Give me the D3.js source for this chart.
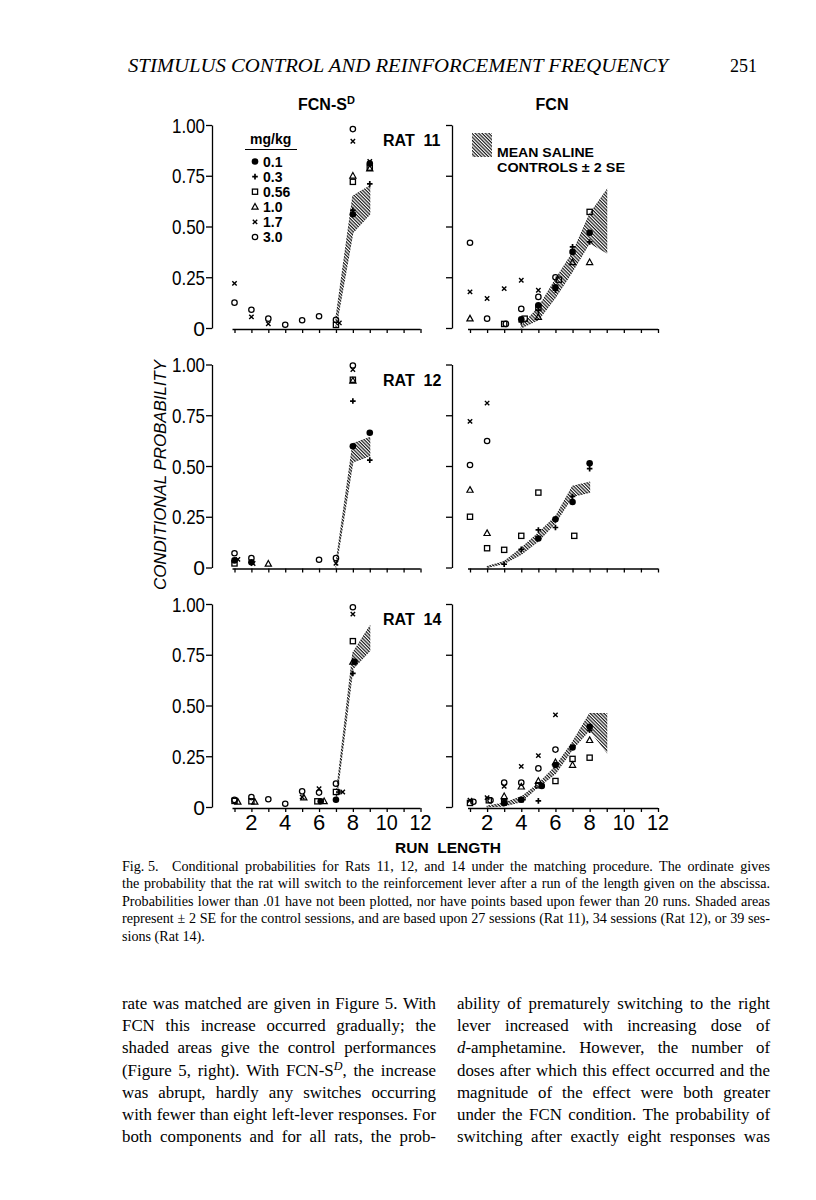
<!DOCTYPE html>
<html><head><meta charset="utf-8">
<script src="https://cdn.jsdelivr.net/npm/d3@7"></script>
<style>body{margin:0;background:#fff} svg{display:block}</style>
</head><body>
<svg id="c" width="816" height="1200"></svg>
<script>
// ---------- data ----------
const doses = ["0.1","0.3","0.56","1.0","1.7","3.0"];
const runLengths = d3.range(1, 13);
const runLabels = [2, 4, 6, 8, 10, 12];
const probTicks = [0, 0.25, 0.5, 0.75, 1];
const probLabels = ["0", "0.25", "0.50", "0.75", "1.00"];
const rats = ["RAT 11", "RAT 12", "RAT 14"];
const conditions = ["FCN-S", "FCN"];

// points: [run length, dose, conditional probability]
const rat11SD = [[1,"1.7",0.22],[1,"3.0",0.125],[2,"3.0",0.09],[2,"1.7",0.055],[3,"3.0",0.046],[3,"1.7",0.021],
  [4,"3.0",0.016],[5,"3.0",0.038],[6,"3.0",0.058],[7,"3.0",0.04],[7,"0.56",0.015],[7.2,"1.7",0.025],
  [8,"3.0",0.98],[8,"1.7",0.92],[8,"1.0",0.75],[8,"0.56",0.72],[8,"0.3",0.58],[8,"0.1",0.56],
  [9,"1.7",0.82],[9,"0.1",0.81],[9,"0.56",0.79],[9,"1.0",0.785],[9,"0.3",0.71]];
const rat11FCN = [[1,"3.0",0.42],[1,"1.7",0.178],[1,"1.0",0.046],[2,"1.7",0.145],[2,"3.0",0.046],
  [3,"1.7",0.194],[3,"0.56",0.02],[3.1,"3.0",0.02],
  [4,"1.7",0.235],[4,"3.0",0.094],[4,"0.1",0.043],[4.2,"0.56",0.046],[4,"0.3",0.03],
  [5,"1.7",0.186],[5,"3.0",0.153],[5,"0.1",0.112],[5,"0.56",0.1],[5,"0.3",0.087],[5,"1.0",0.054],
  [6,"3.0",0.25],[6.2,"0.56",0.238],[6,"0.1",0.2],[6,"0.3",0.186],
  [7,"0.3",0.4],[7,"0.1",0.375],[7,"1.0",0.324],
  [8,"0.56",0.572],[8,"0.1",0.469],[8,"0.3",0.424],[8,"1.0",0.324]];
const rat12SD = [[1,"3.0",0.07],[1.2,"1.7",0.04],[1,"0.1",0.035],[1,"0.56",0.02],
  [2,"3.0",0.046],[2,"0.1",0.026],[2.1,"1.7",0.02],[3,"1.0",0.018],[6,"3.0",0.038],
  [7,"3.0",0.046],[7,"1.7",0.021],
  [8,"3.0",0.995],[8,"1.7",0.975],[8,"0.56",0.925],[8,"1.0",0.92],[8,"0.3",0.82],[8,"0.1",0.597],
  [9,"0.1",0.664],[9,"0.3",0.529]];
const rat12FCN = [[1,"1.7",0.72],[1,"3.0",0.505],[1,"1.0",0.382],[1,"0.56",0.25],
  [2,"1.7",0.81],[2,"3.0",0.623],[2,"1.0",0.169],[2,"0.56",0.095],
  [3,"0.56",0.087],[3,"0.3",0.016],[4,"0.56",0.156],[4,"0.3",0.09],
  [5,"0.56",0.369],[5,"0.3",0.185],[5,"0.1",0.143],[6,"0.1",0.238],[6,"0.3",0.197],
  [7,"0.1",0.323],[7,"0.3",0.35],[7.1,"0.56",0.156],[8,"0.1",0.513],[8,"0.3",0.487]];
const rat14SD = [[1,"0.56",0.03],[1,"3.0",0.035],[1.2,"1.0",0.025],
  [2,"3.0",0.049],[2,"0.56",0.028],[2.2,"1.0",0.025],[3,"3.0",0.038],[4,"3.0",0.016],
  [5,"3.0",0.077],[5,"1.7",0.049],[5.1,"1.0",0.046],
  [6,"1.7",0.09],[6,"3.0",0.071],[5.9,"0.56",0.028],[6.1,"0.1",0.028],[6.3,"1.0",0.028],
  [7,"3.0",0.115],[7,"0.56",0.074],[7.4,"1.7",0.074],[7.2,"0.3",0.074],[7,"0.1",0.036],
  [8,"3.0",0.984],[8,"1.7",0.95],[8,"0.56",0.817],[8,"1.0",0.715],[8.1,"0.1",0.715],[8,"0.3",0.658]];
const rat14FCN = [[1,"0.56",0.02],[1.2,"3.0",0.026],[1,"1.7",0.033],
  [2,"1.7",0.046],[2.1,"0.56",0.033],[2.2,"3.0",0.033],
  [3,"3.0",0.12],[3,"1.7",0.102],[3,"1.0",0.053],[3,"0.1",0.02],[3,"0.56",0.025],
  [4,"1.7",0.2],[4,"3.0",0.12],[4,"1.0",0.10],[4,"0.1",0.036],[4.1,"0.3",0.036],
  [5,"1.7",0.253],[5,"3.0",0.19],[5,"1.0",0.128],[5,"0.56",0.107],[5.2,"0.1",0.104],[5,"0.3",0.03],
  [6,"1.7",0.454],[6,"3.0",0.283],[6,"1.0",0.22],[6,"0.1",0.207],[6,"0.56",0.128],
  [7,"0.1",0.293],[7,"0.56",0.237],[7,"1.0",0.207],
  [8,"0.1",0.395],[8,"0.3",0.378],[8,"1.0",0.329],[8,"0.56",0.243]];

// saline control band: [run length, mean - 2SE, mean + 2SE]
const rat11SDband = [[7,0,0.05],[8,0.47,0.65],[9,0.56,0.70]];
const rat11FCNband = [[4,0,0.01],[5,0.04,0.10],[6,0.15,0.24],[7,0.28,0.37],[8,0.42,0.56],[9,0.37,0.68]];
const rat12SDband = [[7,0,0.02],[8,0.52,0.61],[9,0.55,0.64]];
const rat12FCNband = [[2,0,0.005],[3,0.02,0.03],[4,0.065,0.095],[5,0.13,0.17],[6,0.22,0.25],[7,0.35,0.40],[8,0.37,0.42]];
const rat14SDband = [[7,0.02,0.05],[8,0.68,0.76],[9,0.77,0.89]];
const rat14FCNband = [[2,0,0.005],[3,0.005,0.02],[4,0.026,0.05],[5,0.10,0.115],[6,0.165,0.20],[7,0.285,0.32],[8,0.38,0.46],[9,0.27,0.46]];

const headerText = "STIMULUS CONTROL AND REINFORCEMENT FREQUENCY";
const pageNumber = "251";
const captionLines = [
  "Fig.\u00a05.\u00a0\u00a0 Conditional probabilities for Rats 11, 12, and 14 under the matching procedure. The ordinate gives",
  "the probability that the rat will switch to the reinforcement lever after a run of the length given on the abscissa.",
  "Probabilities lower than .01 have not been plotted, nor have points based upon fewer than 20 runs. Shaded areas",
  "represent \u00b1 2 SE for the control sessions, and are based upon 27 sessions (Rat 11), 34 sessions (Rat 12), or 39 ses-",
  "sions (Rat 14)."
];
const bodyLeft = [
  "rate was matched are given in Figure 5. With",
  "FCN this increase occurred gradually; the",
  "shaded areas give the control performances",
  "(Figure 5, right). With FCN-S^D^, the increase",
  "was abrupt, hardly any switches occurring",
  "with fewer than eight left-lever responses. For",
  "both components and for all rats, the prob-"
];
const bodyRight = [
  "ability of prematurely switching to the right",
  "lever increased with increasing dose of",
  "_d_-amphetamine. However, the number of",
  "doses after which this effect occurred and the",
  "magnitude of the effect were both greater",
  "under the FCN condition. The probability of",
  "switching after exactly eight responses was"
];

// ---------- layout ----------
const svg = d3.select("#c");
const SANS = "'Liberation Sans', Arial, Helvetica, sans-serif";
const SERIF = "'Liberation Serif', 'Times New Roman', serif";
const tops = [125, 364.5, 604];
const H = 203;
const xL = d3.scaleLinear([1, 12], [234.5, 420.5]);
const xR = d3.scaleLinear([1, 12], [470, 658]);
const axisLX = 212, axisRX = 452;

const defs = svg.append("defs");
const pat = defs.append("pattern").attr("id", "hatch").attr("patternUnits", "userSpaceOnUse")
  .attr("width", 2.4).attr("height", 2.4).attr("patternTransform", "rotate(45)");
pat.append("rect").attr("width", 2.4).attr("height", 1.2).attr("fill", "#1a1a1a");

function drawMarker(g, dose, cx, cy) {
  const t = `translate(${cx},${cy})`;
  if (dose === "0.1") g.append("circle").attr("cx", cx).attr("cy", cy).attr("r", 3.3).attr("fill", "#000");
  else if (dose === "0.3") g.append("path").attr("transform", t).attr("d", "M-2.8,0H2.8M0,-2.8V2.8").attr("stroke", "#000").attr("stroke-width", 1.7);
  else if (dose === "0.56") g.append("rect").attr("x", cx - 2.6).attr("y", cy - 2.6).attr("width", 5.2).attr("height", 5.2).attr("fill", "none").attr("stroke", "#000").attr("stroke-width", 1.3);
  else if (dose === "1.0") g.append("path").attr("transform", t).attr("d", "M0,-3.3L3.1,2.3H-3.1Z").attr("fill", "none").attr("stroke", "#000").attr("stroke-width", 1.2);
  else if (dose === "1.7") g.append("path").attr("transform", t).attr("d", "M-2.2,-2.2L2.2,2.2M-2.2,2.2L2.2,-2.2").attr("stroke", "#000").attr("stroke-width", 1.4);
  else if (dose === "3.0") g.append("circle").attr("cx", cx).attr("cy", cy).attr("r", 2.7).attr("fill", "none").attr("stroke", "#000").attr("stroke-width", 1.25);
}

function styleAxis(g) {
  g.selectAll(".domain").attr("stroke", "#000").attr("stroke-width", 1.3);
  g.selectAll(".tick line").attr("stroke", "#000").attr("stroke-width", 1.3);
  g.selectAll(".tick text").remove();
}

const panels = [
  [rat11SD, rat11SDband, rat11FCN, rat11FCNband],
  [rat12SD, rat12SDband, rat12FCN, rat12FCNband],
  [rat14SD, rat14SDband, rat14FCN, rat14FCNband]
];

panels.forEach((p, row) => {
  const top = tops[row];
  const y = d3.scaleLinear([0, 1], [top + H, top]);
  const g = svg.append("g");

  const ga = g.append("g").attr("transform", `translate(${axisLX},0)`)
    .call(d3.axisLeft(y).tickValues(probTicks).tickSize(6).tickSizeOuter(0));
  styleAxis(ga);
  probTicks.forEach((v, i) => {
    const lab = probLabels[i];
    const t = g.append("text").attr("x", 205).attr("y", y(v)).attr("dy", "0.36em")
      .attr("text-anchor", "end").style("font-family", SANS).style("font-size", "21px")
      .text(lab);
    if (lab.length > 1) t.attr("textLength", 33).attr("lengthAdjust", "spacingAndGlyphs");
  });
  const gm = g.append("g").attr("transform", `translate(${axisRX},0)`)
    .call(d3.axisLeft(y).tickValues(probTicks).tickSize(6).tickSizeOuter(0));
  styleAxis(gm);

  [[xL, p[0], p[1]], [xR, p[2], p[3]]].forEach(([xs, pts, band]) => {
    const gx = g.append("g").attr("transform", `translate(0,${y(0) + 1})`)
      .call(d3.axisBottom(xs).tickValues(runLengths).tickSize(4).tickSizeOuter(0));
    styleAxis(gx);
    gx.select(".domain").attr("d", `M${xs(1) - 2},0.5H${xs(12)}`);
    const area = d3.area().x(d => xs(d[0])).y0(d => y(d[1])).y1(d => y(d[2]));
    g.append("path").datum(band).attr("d", area).attr("fill", "url(#hatch)")
      .attr("stroke", "url(#hatch)").attr("stroke-width", 1.1);
    const gp = g.append("g");
    pts.forEach(d => drawMarker(gp, d[1], xs(d[0]), y(d[2])));
    if (row === 2) {
      runLabels.forEach(v => {
        const t = g.append("text").attr("x", xs(v)).attr("y", 830).attr("text-anchor", "middle")
          .style("font-family", SANS).style("font-size", "22px").text(v);
        if (String(v).length > 1) t.attr("textLength", 22).attr("lengthAdjust", "spacingAndGlyphs");
      });
    }
  });

  g.append("text").attr("x", 383).attr("y", top + 21).style("font-family", SANS)
    .style("font-size", "16px").style("font-weight", "bold")
    .text(rats[row].replace(" ", "\u00a0\u00a0"));
});

// titles
const t1 = svg.append("text").attr("x", 298).attr("y", 110).style("font-family", SANS)
  .style("font-size", "16px").style("font-weight", "bold");
t1.append("tspan").text(conditions[0]);
t1.append("tspan").attr("dy", -6).style("font-size", "11px").text("D");
svg.append("text").attr("x", 552).attr("y", 110).attr("text-anchor", "middle").style("font-family", SANS)
  .style("font-size", "16px").style("font-weight", "bold").text(conditions[1]);

// dose legend
svg.append("text").attr("x", 250).attr("y", 144).style("font-family", SANS).style("font-size", "14px")
  .style("font-weight", "bold").text("mg/kg");
svg.append("line").attr("x1", 245).attr("x2", 297).attr("y1", 149.5).attr("y2", 149.5)
  .attr("stroke", "#000").attr("stroke-width", 1.2);
const lg = svg.append("g");
doses.forEach((d, i) => {
  const cy = 161.5 + i * 15.1;
  drawMarker(lg, d, 255, cy);
  lg.append("text").attr("x", 263).attr("y", cy).attr("dy", "0.36em").style("font-family", SANS)
    .style("font-size", "14px").style("font-weight", "bold").text(d);
});

// band legend
svg.append("rect").attr("x", 472).attr("y", 133).attr("width", 20).attr("height", 24).attr("fill", "url(#hatch)");
svg.append("text").attr("x", 497).attr("y", 156.5).style("font-family", SANS).style("font-size", "13px")
  .style("font-weight", "bold").attr("textLength", 97).attr("lengthAdjust", "spacingAndGlyphs").text("MEAN SALINE");
svg.append("text").attr("x", 497).attr("y", 171.5).style("font-family", SANS).style("font-size", "13px")
  .style("font-weight", "bold").attr("textLength", 128).attr("lengthAdjust", "spacingAndGlyphs").text("CONTROLS \u00b1 2 SE");

// axis titles
svg.append("text").attr("transform", "translate(166,475) rotate(-90)").attr("text-anchor", "middle")
  .style("font-family", SANS).style("font-size", "17px").style("font-style", "italic")
  .attr("textLength", 230).attr("lengthAdjust", "spacingAndGlyphs").text("CONDITIONAL PROBABILITY");
svg.append("text").attr("x", 448).attr("y", 853).attr("text-anchor", "middle")
  .style("font-family", SANS).style("font-size", "15.5px").style("font-weight", "bold")
  .text("RUN\u00a0\u00a0LENGTH");

// header
svg.append("text").attr("x", 128).attr("y", 72).style("font-family", SERIF).style("font-style", "italic")
  .style("font-size", "18px").attr("textLength", 540).attr("lengthAdjust", "spacingAndGlyphs").text(headerText);
svg.append("text").attr("x", 757).attr("y", 72).attr("text-anchor", "end").style("font-family", SERIF)
  .style("font-size", "18px").text(pageNumber);

// ---------- justified text ----------
function addWord(g, word, y, size) {
  const t = g.append("text").attr("y", y).style("font-family", SERIF).style("font-size", size + "px");
  const parts = word.split(/(\^[^^]+\^|_[^_]+_)/).filter(s => s.length);
  let shifted = false;
  parts.forEach(s => {
    if (s[0] === "^" && s.length > 2) {
      t.append("tspan").attr("dy", -size * 0.35).style("font-size", (size * 0.72) + "px")
        .style("font-style", "italic").text(s.slice(1, -1));
      shifted = true;
    } else if (s[0] === "_" && s.length > 2) {
      t.append("tspan").style("font-style", "italic").text(s.slice(1, -1));
    } else {
      const ts = t.append("tspan").text(s);
      if (shifted) { ts.attr("dy", size * 0.35); shifted = false; }
    }
  });
  return t;
}
function naturalWidth(g, line, size) {
  const words = line.split(" ");
  const nodes = words.map(w => addWord(g, w, -100, size));
  const w = d3.sum(nodes, n => n.node().getComputedTextLength()) + (words.length - 1) * size * 0.25;
  nodes.forEach(n => n.remove());
  return w;
}
function fitSize(g, lines, width, maxSize) {
  let s = maxSize;
  lines.forEach(l => { const w = naturalWidth(g, l, 20); s = Math.min(s, 20 * width / w * 0.995); });
  return s;
}
function textLine(g, line, x0, x1, y, size, justify) {
  const words = line.split(" ");
  const nodes = words.map(w => addWord(g, w, y, size));
  const widths = nodes.map(n => n.node().getComputedTextLength());
  const total = d3.sum(widths);
  const gap = justify && words.length > 1 ? (x1 - x0 - total) / (words.length - 1) : size * 0.25;
  let x = x0;
  nodes.forEach((n, i) => { n.attr("x", x); x += widths[i] + gap; });
}

const tg = svg.append("g").attr("fill", "#000");
const capJust = captionLines.slice(0, -1);
const capSize = fitSize(tg, capJust, 648, 14.5);
captionLines.forEach((l, i) => textLine(tg, l, 122, 770, 870.5 + i * 17.6, capSize, i < captionLines.length - 1));
const bodySize = fitSize(tg, bodyLeft.concat(bodyRight), 313, 18.5);
bodyLeft.forEach((l, i) => textLine(tg, l, 122, 436, 1009 + i * 22.2, bodySize, true));
bodyRight.forEach((l, i) => textLine(tg, l, 457, 770, 1009 + i * 22.2, bodySize, true));
</script>
</body></html>
